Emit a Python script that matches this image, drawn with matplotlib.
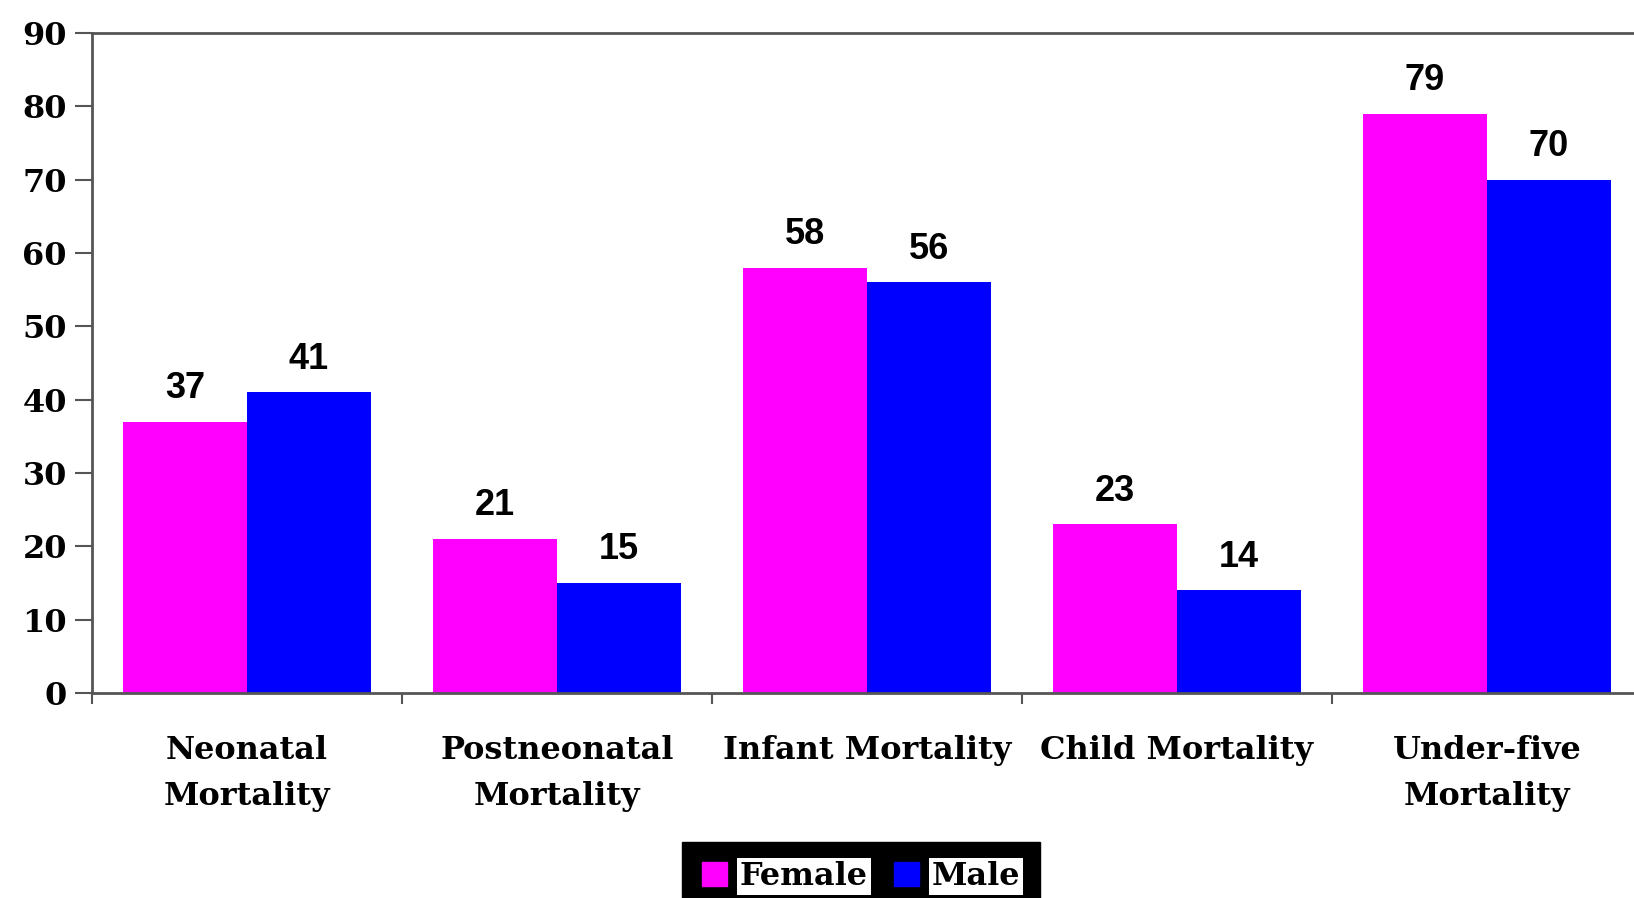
import matplotlib
matplotlib.use("Agg")
import matplotlib.pyplot as plt
import matplotlib.patches as mpatches
import numpy as np

categories = ["Neonatal\nMortality", "Postneonatal\nMortality", "Infant Mortality",
              "Child Mortality", "Under-five\nMortality"]
female = [37, 21, 58, 23, 79]
male = [41, 15, 56, 14, 70]
yticks = [0, 10, 20, 30, 40, 50, 60, 70, 80, 90]

W, H = 1634, 898
fig = plt.figure(figsize=(W / 100, H / 100), dpi=100)
ax = fig.add_axes([92 / W, 1 - 693 / H, 1550 / W, 660 / H])

x = np.arange(len(categories))
bw = 0.4
pink = "#ff00ff"
blue = "#0000ff"
ax.bar(x - bw / 2, female, bw, color=pink, label="Female", linewidth=0)
ax.bar(x + bw / 2, male, bw, color=blue, label="Male", linewidth=0)

ax.set_xlim(-0.5, len(categories) - 0.5)
ax.set_ylim(0, 90)

spine_c = "#555555"
for s in ["left", "top", "bottom", "right"]:
    ax.spines[s].set_color(spine_c)
    ax.spines[s].set_linewidth(2)

serif = "DejaVu Serif"
ax.set_yticks(yticks)
ax.set_yticklabels([str(v) for v in yticks], family=serif,
                   fontweight="bold", fontsize=23)
ax.tick_params(axis="y", length=12, width=1.5, color=spine_c, pad=6)

ax.set_xticks(x)
ax.set_xticklabels(categories, family=serif, fontweight="bold",
                   fontsize=23, linespacing=1.65, va="top")
ax.tick_params(axis="x", which="major", length=0, pad=30)
ax.set_xticks(np.arange(len(categories) + 1) - 0.5, minor=True)
ax.tick_params(axis="x", which="minor", length=8, width=1.5, color=spine_c)

for xi, v in zip(x - bw / 2, female):
    ax.annotate(str(v), (xi, v), xytext=(0, 17), textcoords="offset points",
                ha="center", va="baseline", family="Liberation Sans",
                fontweight="bold", fontsize=26)
for xi, v in zip(x + bw / 2, male):
    ax.annotate(str(v), (xi, v), xytext=(0, 17), textcoords="offset points",
                ha="center", va="baseline", family="Liberation Sans",
                fontweight="bold", fontsize=26)

handles = [mpatches.Patch(color=pink), mpatches.Patch(color=blue)]
leg = fig.legend(handles, ["Female", "Male"], loc="upper center",
                 bbox_to_anchor=(861 / W, 1 - 842 / H), ncol=2,
                 frameon=True, facecolor="black", edgecolor="black",
                 fancybox=False, framealpha=1,
                 prop={"family": serif, "weight": "bold", "size": 23},
                 handlelength=0.8, handleheight=0.8, handletextpad=0.4,
                 columnspacing=0.8, borderpad=0.6, borderaxespad=0)
for t in leg.get_texts():
    t.set_bbox(dict(facecolor="white", edgecolor="none", pad=2))

fig.savefig("out.png", dpi=100)
